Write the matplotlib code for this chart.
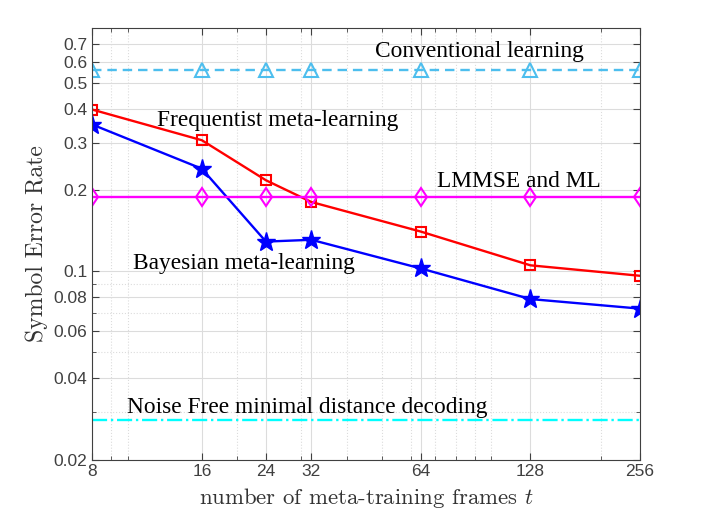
import matplotlib
matplotlib.use('Agg')
import matplotlib.pyplot as plt
from matplotlib.ticker import FixedLocator, NullFormatter

# datos
frames = [8, 16, 24, 32, 64, 128, 256]
conventional = [0.559] * 7
lmmse_ml = [0.189] * 7
noise_free = [0.028] * 7
frequentist = [0.399, 0.307, 0.218, 0.181, 0.1405, 0.1053, 0.0963]
bayesian = [0.351, 0.2406, 0.129, 0.131, 0.1025, 0.0789, 0.0727]

y_ticks = [0.02, 0.04, 0.06, 0.08, 0.1, 0.2, 0.3, 0.4, 0.5, 0.6, 0.7]
y_labels = ['0.02', '0.04', '0.06', '0.08', '0.1', '0.2', '0.3', '0.4', '0.5', '0.6', '0.7']
y_minor = [0.03, 0.05, 0.07, 0.09]
x_minor = [9, 10, 20, 30, 40, 50, 60, 70, 80, 90, 100, 200]

plt.rcParams['mathtext.fontset'] = 'cm'
serif = 'Liberation Serif'
fs = 16.8

fig = plt.figure(figsize=(7.07, 5.17), dpi=100)
ax = fig.add_axes([0.1306, 0.1112, 0.7746, 0.8341])

ax.plot(frames, conventional, color='#4DBEEE', lw=1.7, ls=(0, (4, 2.5)),
        marker='^', ms=9.5, mfc='none', mew=1.5)
ax.plot(frames, frequentist, '-', color='#FF0000', lw=1.7, marker='s',
        ms=7.5, mfc='none', mew=1.5)
ax.plot(frames, bayesian, '-', color='#0000FF', lw=1.7, marker='*',
        ms=14, mew=1.0)
ax.plot(frames, lmmse_ml, '-', color='#FF00FF', lw=1.7, marker='d',
        ms=9.5, mfc='none', mew=1.5)
ax.plot(frames, noise_free, '-.', color='#00FFFF', lw=1.7)

ax.set_xscale('log', base=2)
ax.set_yscale('log')
ax.set_xlim(8, 256)
ax.set_ylim(0.02, 0.8)

ax.xaxis.set_major_locator(FixedLocator(frames))
ax.set_xticklabels([str(f) for f in frames])
ax.xaxis.set_minor_locator(FixedLocator(x_minor))
ax.xaxis.set_minor_formatter(NullFormatter())
ax.yaxis.set_major_locator(FixedLocator(y_ticks))
ax.set_yticklabels(y_labels)
ax.yaxis.set_minor_locator(FixedLocator(y_minor))
ax.yaxis.set_minor_formatter(NullFormatter())
for lab in ax.get_xticklabels() + ax.get_yticklabels():
    lab.set_family('Liberation Sans')

ax.grid(True, which='major', color='#dcdcdc', lw=0.8, ls='-')
ax.grid(True, which='minor', color='#dcdcdc', lw=0.8, ls=':')
ax.set_axisbelow(True)

ax.tick_params(which='both', direction='in', top=True, right=True,
               color='#404040', labelcolor='#404040', labelsize=12.5)
ax.tick_params(which='major', length=5)
ax.tick_params(which='minor', length=3)
for s in ax.spines.values():
    s.set_color('#404040')
    s.set_linewidth(0.8)

ax.set_ylabel('Symbol Error Rate', family='cmr10', fontsize=17, color='#333333')
ax.set_xlabel(r'number of meta-training frames $t$', family='cmr10',
              fontsize=16.4, color='#333333', labelpad=5)

ax.text(47.9, 0.625, 'Conventional learning', family=serif, fontsize=fs,
        ha='left', va='baseline')
ax.text(12.05, 0.3457, 'Frequentist meta-learning', family=serif, fontsize=fs,
        ha='left', va='baseline')
ax.text(70.9, 0.205, 'LMMSE and ML', family=serif, fontsize=fs,
        ha='left', va='baseline')
ax.text(10.35, 0.1023, 'Bayesian meta-learning', family=serif, fontsize=fs,
        ha='left', va='baseline')
ax.text(9.97, 0.0298, 'Noise Free minimal distance decoding', family=serif,
        fontsize=fs, ha='left', va='baseline')

fig.savefig('out.png', dpi=100)
